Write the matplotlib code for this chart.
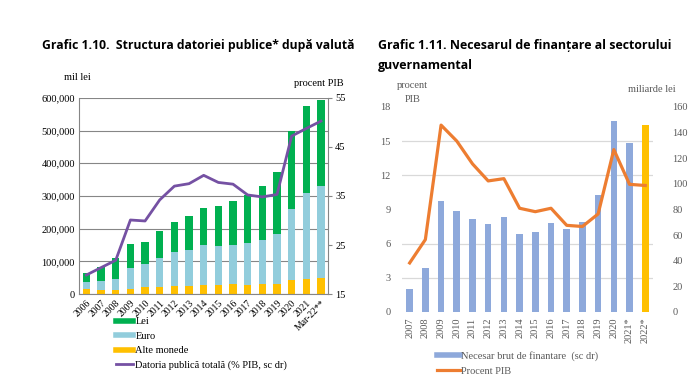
import numpy as np
import matplotlib.pyplot as plt
from matplotlib.lines import Line2D

# Grafic 1.10 data
years_a = ["2006", "2007", "2008", "2009", "2010", "2011", "2012", "2013", "2014",
           "2015", "2016", "2017", "2018", "2019", "2020", "2021", "Mar-22**"]
alte = [14300, 14000, 13000, 17000, 20400, 20400, 25500, 24400, 28500,
        27500, 29500, 26500, 31600, 31600, 42800, 45800, 48900]
euro = [23400, 26700, 31800, 61400, 72300, 88600, 103900, 111100, 122300,
        118200, 119200, 130400, 134400, 151800, 218000, 261800, 282100]
lei = [27500, 42800, 65200, 74400, 65200, 82500, 89600, 103900, 112000,
       124300, 136300, 145600, 164000, 189400, 238200, 268000, 262900]
datorie_pib = [18.9, 20.4, 21.9, 30.1, 29.9, 34.2, 37.0, 37.5, 39.2,
               37.75, 37.4, 35.2, 34.8, 35.3, 47.2, 48.75, 50.25]

# Grafic 1.11 data
years_b = ["2007", "2008", "2009", "2010", "2011", "2012", "2013", "2014",
           "2015", "2016", "2017", "2018", "2019", "2020", "2021*", "2022*"]
necesar = [18.2, 34.3, 86.4, 78.6, 72.8, 68.9, 74.1, 60.9,
           62.7, 69.5, 65.0, 70.2, 91.6, 149.0, 131.9, 145.7]
procent_pib = [4.3, 6.35, 16.4, 15.0, 13.0, 11.5, 11.7, 9.1,
               8.8, 9.1, 7.6, 7.5, 8.6, 14.25, 11.2, 11.1]

serif = "Liberation Serif"
title_font = "Open Sans"

fig = plt.figure(figsize=(7.0, 3.79), dpi=100)

# ---------------- left chart ----------------
ax = fig.add_axes([0.113, 0.224, 0.356, 0.518])
x = np.arange(len(years_a))
w = 0.5
ax.bar(x, alte, w, color="#FFC000", zorder=2)
ax.bar(x, euro, w, bottom=alte, color="#92CDDC", zorder=2)
bot2 = np.array(alte) + np.array(euro)
ax.bar(x, lei, w, bottom=bot2, color="#00B050", zorder=2)
ax.set_xlim(-0.5, len(x) - 0.5)
ax.set_ylim(0, 600000)
ax.set_yticks(np.arange(0, 600001, 100000))
ax.set_yticklabels([f"{v:,}" for v in range(0, 600001, 100000)],
                   family=serif, fontsize=7.5)
ax.yaxis.grid(True, color="#868686", linewidth=0.8, zorder=0)
ax.set_xticks(x)
ax.set_xticklabels(years_a, rotation=45, ha="right", rotation_mode="anchor",
                   family=serif, fontsize=7)
ax.tick_params(axis="both", length=0, pad=3)
ax.spines["top"].set_visible(False)
for s in ["left", "right", "bottom"]:
    ax.spines[s].set_color("#868686")

ax2 = ax.twinx()
ax2.plot(x, datorie_pib, color="#7551A3", linewidth=2)
ax2.set_ylim(15, 55)
ax2.set_yticks([15, 25, 35, 45, 55])
ax2.set_yticklabels(["15", "25", "35", "45", "55"], family=serif, fontsize=7.5)
ax2.tick_params(axis="y", length=3, color="#868686", pad=2)
for s in ax2.spines.values():
    s.set_visible(False)

fig.text(64 / 700, 1 - 78 / 379, "mil lei", family=serif, fontsize=7.5, va="center")
fig.text(344 / 700, 1 - 84 / 379, "procent PIB", family=serif, fontsize=7.5,
         va="center", ha="right")

fig.text(42 / 700, 1 - 46 / 379, "Grafic 1.10.  Structura datoriei publice* după valută",
         family=title_font, fontweight="bold", fontsize=8.7, va="center")

handles_a = [
    Line2D([], [], color="#00B050", linewidth=4),
    Line2D([], [], color="#92CDDC", linewidth=4),
    Line2D([], [], color="#FFC000", linewidth=4),
    Line2D([], [], color="#7551A3", linewidth=2),
]
fig.legend(handles_a, ["Lei", "Euro", "Alte monede",
                       "Datoria publică totală (% PIB, sc dr)"],
           loc="upper left", bbox_to_anchor=(116 / 700, 1 - 317 / 379),
           frameon=False, prop={"family": serif, "size": 7.5},
           handlelength=1.6, handletextpad=0.25, labelspacing=0.5,
           borderaxespad=0, borderpad=0)

# ---------------- right chart ----------------
bx = fig.add_axes([0.574, 0.177, 0.359, 0.541])
xb = np.arange(len(years_b))
bx.plot(xb, procent_pib, color="#ED7D31", linewidth=2.3, zorder=3)
bx.set_xlim(-0.5, len(xb) - 0.5)
bx.set_ylim(0, 18)
bx.set_yticks(np.arange(0, 19, 3))
bx.set_yticklabels([str(v) for v in range(0, 19, 3)], family=serif,
                   fontsize=7.5, color="#595959")
bx.set_xticks(xb)
bx.set_xticklabels(years_b, rotation=90, family=serif, fontsize=7.5,
                   color="#595959")
bx.tick_params(axis="y", length=0, pad=8)
bx.tick_params(axis="x", length=0, pad=4)
for s in bx.spines.values():
    s.set_visible(False)

bx2 = bx.twinx()
colors_b = ["#8EA9DB"] * (len(xb) - 1) + ["#FFC000"]
bx2.bar(xb, necesar, 0.42, color=colors_b, zorder=2)
bx2.set_ylim(0, 160)
bx2.set_yticks(np.arange(0, 161, 20))
bx2.set_yticklabels([str(v) for v in range(0, 161, 20)], family=serif,
                    fontsize=7.5, color="#595959")
# gridlines follow the left scale, drawn under the bars
bx2.set_yticks(np.linspace(0, 160, 7), minor=True)
bx2.yaxis.grid(True, which="minor", color="#D9D9D9", linewidth=0.9, zorder=0)
bx2.set_axisbelow(True)
bx2.tick_params(axis="y", which="major", length=0, pad=14)
bx2.tick_params(axis="y", which="minor", length=0)
for s in bx2.spines.values():
    s.set_visible(False)
bx.set_zorder(bx2.get_zorder() + 1)
bx.patch.set_visible(False)

fig.text(397 / 700, 1 - 86 / 379, "procent", family=serif, fontsize=7.5,
         color="#595959", va="center")
fig.text(405 / 700, 1 - 100 / 379, "PIB", family=serif, fontsize=7.5,
         color="#595959", va="center")
fig.text(676 / 700, 1 - 89 / 379, "miliarde lei", family=serif, fontsize=7.5,
         color="#595959", va="center", ha="right")

fig.text(378 / 700, 1 - 46 / 379, "Grafic 1.11. Necesarul de finanțare al sectorului",
         family=title_font, fontweight="bold", fontsize=8.9, va="center")
fig.text(378 / 700, 1 - 66 / 379, "guvernamental",
         family=title_font, fontweight="bold", fontsize=8.9, va="center")

handles_b = [
    Line2D([], [], color="#8EA9DB", linewidth=4),
    Line2D([], [], color="#ED7D31", linewidth=2.3),
]
fig.legend(handles_b, ["Necesar brut de finantare  (sc dr)", "Procent PIB"],
           loc="upper left", bbox_to_anchor=(437 / 700, 1 - 351 / 379),
           frameon=False, prop={"family": serif, "size": 7.5},
           labelcolor="#595959",
           handlelength=2.2, handletextpad=0.15, labelspacing=0.55,
           borderaxespad=0, borderpad=0)

fig.savefig("out.png", dpi=100)
